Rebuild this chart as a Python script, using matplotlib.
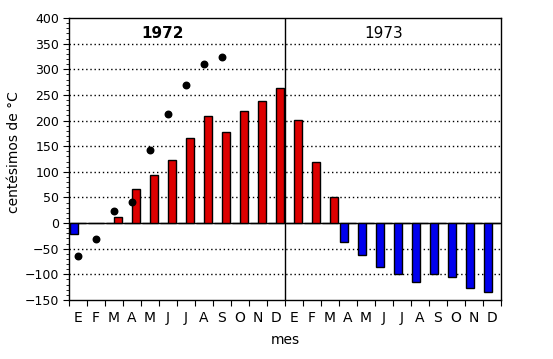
import matplotlib
matplotlib.use("Agg")
import matplotlib.pyplot as plt
import numpy as np

# datos (centésimos de °C), meses E..D de 1972 y 1973
meses = ["E", "F", "M", "A", "M", "J", "J", "A", "S", "O", "N", "D"] * 2
rojo = [0, 0, 11, 66, 93, 124, 165, 208, 177, 218, 239, 263,
        202, 120, 50, 0, 0, 0, 0, 0, 0, 0, 0, 0]
azul = [-22, 0, 0, 0, 0, 0, 0, 0, 0, 0, 0, 0,
        0, 0, 0, -36, -62, -85, -100, -114, -100, -105, -126, -134]
puntos = [-64, -32, 23, 42, 142, 212, 269, 310, 324]

ROJO = "#dd0000"
AZUL = "#0000ee"

fig = plt.figure(figsize=(5.53, 3.59), dpi=100)
ax = fig.add_axes([69 / 553, 59 / 359, 432 / 553, 282 / 359])

x = np.arange(len(meses)) + 0.5
ancho = 0.42
ax.bar(x, rojo, width=ancho, align="edge", color=ROJO, edgecolor="black", linewidth=1, zorder=3)
ax.bar(x - ancho, azul, width=ancho, align="edge", color=AZUL, edgecolor="black", linewidth=1, zorder=3)
ax.scatter(x[:len(puntos)], puntos, s=22, color="black", zorder=4)

ax.set_xlim(0, 24)
ax.set_ylim(-150, 400)

# rejilla punteada
for v in range(-100, 400, 50):
    if v == 0:
        ax.axhline(0, color="black", linewidth=1, zorder=2)
    else:
        ax.axhline(v, color="black", linewidth=1, linestyle=(0, (1, 2)), zorder=1)
ax.axvline(12, color="black", linewidth=1, zorder=2)

ax.set_yticks(range(-150, 401, 50))
ax.set_yticks(range(-150, 401, 10), minor=True)
ax.set_xticks(range(0, 25))
ax.set_xticklabels([])
ax.set_xticks(x, minor=True)
ax.set_xticklabels(meses, minor=True)
ax.tick_params(axis="x", which="minor", length=0, pad=8)
ax.tick_params(axis="x", which="major", length=4, direction="out")
ax.tick_params(axis="y", which="major", length=4, direction="out", pad=3)
ax.tick_params(axis="y", which="minor", length=2, direction="out")
ax.tick_params(labelsize=9)

for s in ax.spines.values():
    s.set_linewidth(1)

ax.set_ylabel("centésimos de °C", fontsize=10)
ax.yaxis.set_label_coords(-0.111, 0.525)
ax.set_xlabel("mes", fontsize=10)
ax.xaxis.set_label_coords(0.5, -0.117)

ax.text(5.22, 370, "1972", ha="center", va="center", fontsize=11, fontweight="bold")
ax.text(17.5, 370, "1973", ha="center", va="center", fontsize=11)

fig.savefig("out.png", dpi=100)
